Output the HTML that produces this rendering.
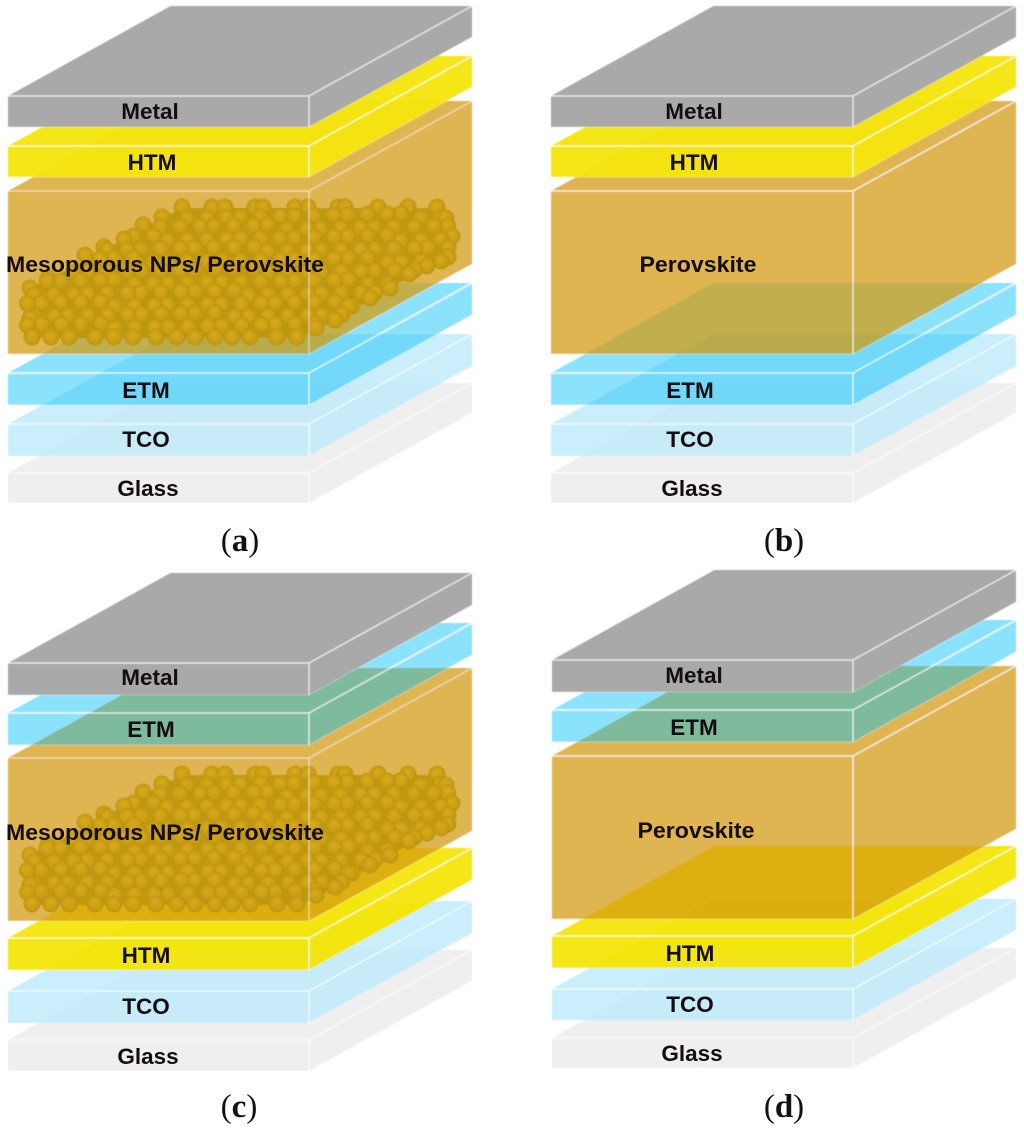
<!DOCTYPE html>
<html lang="en">
<head>
<meta charset="utf-8">
<title>Perovskite solar cell architectures</title>
<style>
html,body{margin:0;padding:0;background:#fff;width:1024px;height:1132px;overflow:hidden}
svg{display:block}
.lb{font-family:"Liberation Sans",sans-serif;font-weight:700;font-size:22.5px;fill:#140d12}
.cap{font-family:"Liberation Serif",serif;font-size:33px;fill:#111}
.cap .b{font-weight:700}
</style>
</head>
<body>
<svg id="fig" xmlns="http://www.w3.org/2000/svg" width="1024" height="1132" viewBox="0 0 1024 1132">
<defs>
<radialGradient id="sph" cx="0.5" cy="0.5" r="0.52" fx="0.44" fy="0.36">
<stop offset="0" stop-color="#d8aa1c"/>
<stop offset="0.65" stop-color="#cba014"/>
<stop offset="1" stop-color="#b8920e"/>
</radialGradient>
<filter id="soft" x="-2%" y="-2%" width="104%" height="104%"><feGaussianBlur stdDeviation="0.5"/></filter>
</defs>
</svg>
<script>
var NS = 'http://www.w3.org/2000/svg';
var fig = document.getElementById('fig');

var STYLE = {
  Metal: {fill: 'rgb(169,169,169)', opacity: 1},
  HTM: {fill: 'rgb(245,229,8)', opacity: 0.96},
  Perovskite: {fill: 'rgb(211,154,10)', opacity: 0.73},
  ETM: {fill: 'rgb(10,192,250)', opacity: 0.46},
  TCO: {fill: 'rgb(193,235,250)', opacity: 0.85},
  Glass: {fill: 'rgb(228,228,228)', opacity: 0.6}
};

var PANELS = [
  {id: 'a', x: 8, width: 301, dx: 163, dy: 90, mesoDy: 0, caption: 'a', capX: 240, capY: 551, layers: [
    ['Glass', 473, 503, 148, 496],
    ['TCO', 424, 456, 146, 447],
    ['ETM', 373, 405, 146, 398],
    ['Perovskite', 191, 354, 165, 272],
    ['HTM', 146, 177, 152, 170],
    ['Metal', 96, 127, 150, 119]
  ]},
  {id: 'b', x: 551, width: 302, dx: 163, dy: 90, mesoDy: null, caption: 'b', capX: 784, capY: 551, layers: [
    ['Glass', 473, 503, 692, 496],
    ['TCO', 424, 456, 690, 447],
    ['ETM', 373, 405, 690, 398],
    ['Perovskite', 191, 354, 698, 272],
    ['HTM', 146, 177, 694, 170],
    ['Metal', 96, 127, 694, 119]
  ]},
  {id: 'c', x: 8, width: 301, dx: 163, dy: 90, mesoDy: 567, caption: 'c', capX: 239, capY: 1117, layers: [
    ['Glass', 1040, 1071, 148, 1064],
    ['TCO', 991, 1023, 146, 1014],
    ['HTM', 938, 970, 146, 963],
    ['Perovskite', 758, 921, 165, 840],
    ['ETM', 713, 745, 151, 737],
    ['Metal', 663, 695, 150, 685]
  ]},
  {id: 'd', x: 552, width: 301, dx: 163, dy: 90, mesoDy: null, caption: 'd', capX: 784, capY: 1117, layers: [
    ['Glass', 1038, 1068, 692, 1061],
    ['TCO', 989, 1020, 690, 1012],
    ['HTM', 936, 968, 690, 961],
    ['Perovskite', 756, 919, 696, 838],
    ['ETM', 710, 742, 694, 735],
    ['Metal', 660, 692, 694, 683]
  ]}
];

var CLOUD = [[28,338],[300,338],[333,322],[370,300],[408,278],[448,258],[458,235],[445,208],[182,208],[143,228],[104,250],[48,280],[25,290]];
var TOP_ROW = [182,212,225,255,263,295,308,338,345,378,408,437];
var EDGE_SPHERES = [[162,217],[143,225],[124,239],[104,247],[85,255],[48,278],[30,288],[30,318],[316,328],[335,320],[352,306],[370,298],[390,288],[409,274],[427,266],[448,257],[452,236],[446,218]];
var FRONT_ROW = [32,51,69,95,114,133,156,177,195,215,232,250,277,297];

function make(parent, tag, attrs) {
  var el = document.createElementNS(NS, tag);
  for (var k in attrs) el.setAttribute(k, attrs[k]);
  parent.appendChild(el);
  return el;
}

function inside(px, py) {
  var c = false;
  for (var i = 0, j = CLOUD.length - 1; i < CLOUD.length; j = i++) {
    var a = CLOUD[i], b = CLOUD[j];
    if ((a[1] > py) !== (b[1] > py) && px < (b[0] - a[0]) * (py - a[1]) / (b[1] - a[1]) + a[0]) c = !c;
  }
  return c;
}

function wob(n) { return ((Math.round(n) * 7919) % 101) / 101 - 0.5; }

function spherePoints() {
  var pts = [];
  var r = 0;
  for (var y = 216; y < 330; y += 11, r++) {
    for (var x = 26 + (r % 2) * 9; x < 462; x += 18) {
      var sx = x + wob(r * 37 + x) * 6, sy = y + wob(r * 11 + x * 3) * 5;
      if (inside(sx, sy)) pts.push([sx, sy]);
    }
  }
  TOP_ROW.forEach(function (tx) { pts.push([tx, 207]); });
  EDGE_SPHERES.forEach(function (p) { pts.push(p); });
  FRONT_ROW.forEach(function (fx) { pts.push([fx, 337]); });
  return pts.sort(function (p, q) { return p[1] - q[1]; });
}

function drawCloud(group, dy) {
  var base = CLOUD.map(function (p) { return p[0] + ',' + (p[1] + dy); }).join(' ');
  var under = make(group, 'polygon', {points: base, fill: '#bb960f', 'fill-opacity': 0.9});
  
  
  spherePoints().forEach(function (p) {
    var s = make(group, 'circle', {cx: p[0].toFixed(1), cy: (p[1] + dy).toFixed(1), r: 8.4, fill: 'url(#sph)'});
    
    
  });
}

function drawLayer(group, panel, lay) {
  var name = lay[0], top = lay[1], bot = lay[2];
  var st = STYLE[name];
  var xl = panel.x, xr = panel.x + panel.width, xb = xr + panel.dx, xbl = xl + panel.dx - 0.5;
  var up = panel.dy;
  var g = make(group, 'g', {});
  
  
  var hex = [xl, top, xbl, top - up, xb, top - up, xb, bot - up, xr, bot, xl, bot].join(' ');
  make(g, 'polygon', {points: hex, fill: st.fill, 'fill-opacity': st.opacity});
  if (name === 'Perovskite' && panel.mesoDy !== null) {
    var cg = make(g, 'g', {});
    
    
    drawCloud(cg, panel.mesoDy);
  }
  var eo = (name === 'Perovskite' && panel.mesoDy !== null) ? 0.55 : 0.85;
  var d = 'M' + xl + ' ' + top + 'H' + xr + 'V' + bot + 'M' + xr + ' ' + top + 'L' + xb + ' ' + (top - up);
  make(g, 'path', {d: d, fill: 'none', stroke: '#fff', 'stroke-width': 1.2, 'stroke-opacity': eo});
  make(g, 'path', {d: 'M' + xl + ' ' + bot + 'H' + xr + 'L' + xb + ' ' + (bot - up), fill: 'none', stroke: '#fff', 'stroke-width': 0.8, 'stroke-opacity': 0.35});
}

PANELS.forEach(function (panel) {
  var art = make(fig, 'g', {filter: 'url(#soft)'});
  
  
  panel.layers.forEach(function (lay) { drawLayer(art, panel, lay); });

  panel.layers.forEach(function (lay) {
    var meso = lay[0] === 'Perovskite' && panel.mesoDy !== null;
    var t = make(fig, 'text', {'class': 'lb', x: lay[3], y: lay[4], 'text-anchor': 'middle'});
    if (meso) {
      t.setAttribute('textLength', '318');
      t.setAttribute('lengthAdjust', 'spacingAndGlyphs');
    } else if (lay[0] === 'Perovskite') {
      t.setAttribute('textLength', '117');
      t.setAttribute('lengthAdjust', 'spacingAndGlyphs');
    }
    t.textContent = meso ? 'Mesoporous NPs/ Perovskite' : lay[0];
    
    
  });

  var cap = make(fig, 'text', {'class': 'cap', x: panel.capX, y: panel.capY, 'text-anchor': 'middle'});
  
  
  cap.appendChild(document.createTextNode('('));
  var bold = make(cap, 'tspan', {'class': 'b'});
  bold.textContent = panel.caption;
  cap.appendChild(document.createTextNode(')'));
});
</script>
</body>
</html>
